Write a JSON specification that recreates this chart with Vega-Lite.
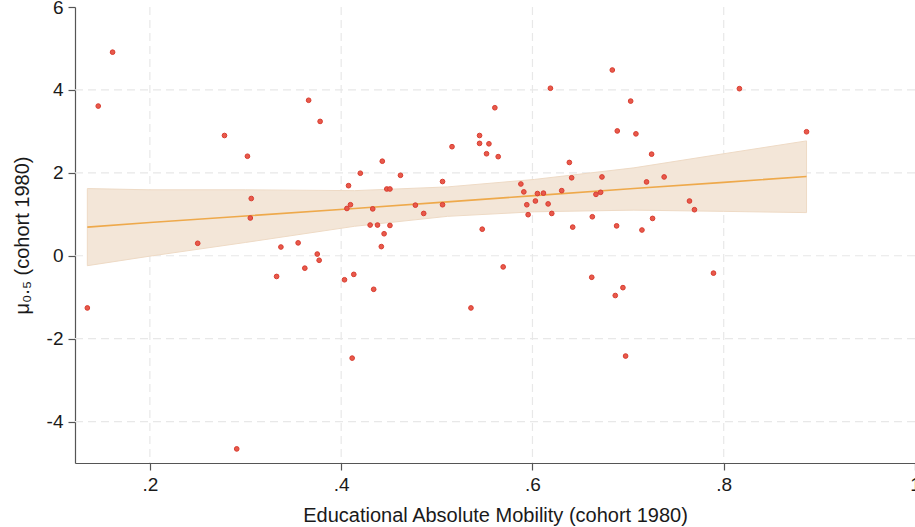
{
  "$schema": "https://vega.github.io/schema/vega-lite/v6.json",
  "width": 840,
  "height": 456,
  "autosize": {"type": "none"},
  "padding": {"left": 75, "top": 7, "right": 0, "bottom": 64},
  "background": "white",
  "config": {
    "view": {"stroke": null},
    "font": "Liberation Sans",
    "axis": {
      "labelFont": "Liberation Sans",
      "titleFont": "Liberation Sans",
      "labelFontSize": 19,
      "titleFontSize": 20,
      "titleFontWeight": "normal",
      "labelColor": "#1a1a1a",
      "titleColor": "#1a1a1a",
      "domainColor": "#555555",
      "tickColor": "#555555",
      "domainWidth": 1.2,
      "tickWidth": 1.2,
      "tickSize": 7,
      "labelPadding": 5,
      "grid": false
    }
  },
  "datasets": {
    "pts": [
      {"x": 0.161, "y": 4.91}, {"x": 0.146, "y": 3.61}, {"x": 0.278, "y": 2.90}, {"x": 0.302, "y": 2.40},
      {"x": 0.306, "y": 1.38}, {"x": 0.305, "y": 0.91}, {"x": 0.250, "y": 0.30}, {"x": 0.337, "y": 0.21},
      {"x": 0.355, "y": 0.31}, {"x": 0.366, "y": 3.75}, {"x": 0.375, "y": 0.04}, {"x": 0.377, "y": -0.11},
      {"x": 0.362, "y": -0.30}, {"x": 0.378, "y": 3.24}, {"x": 0.1346, "y": -1.26}, {"x": 0.3325, "y": -0.50},
      {"x": 0.2908, "y": -4.66}, {"x": 0.4077, "y": 1.69}, {"x": 0.420, "y": 1.99}, {"x": 0.443, "y": 2.28},
      {"x": 0.462, "y": 1.94}, {"x": 0.4097, "y": 1.23}, {"x": 0.406, "y": 1.14}, {"x": 0.433, "y": 1.13},
      {"x": 0.4477, "y": 1.61}, {"x": 0.451, "y": 1.61}, {"x": 0.4776, "y": 1.22}, {"x": 0.4863, "y": 1.02},
      {"x": 0.506, "y": 1.79}, {"x": 0.506, "y": 1.23}, {"x": 0.4303, "y": 0.74}, {"x": 0.438, "y": 0.74},
      {"x": 0.451, "y": 0.73}, {"x": 0.4449, "y": 0.53}, {"x": 0.442, "y": 0.22}, {"x": 0.5159, "y": 2.63},
      {"x": 0.5447, "y": 2.90}, {"x": 0.5447, "y": 2.71}, {"x": 0.5545, "y": 2.70}, {"x": 0.552, "y": 2.46},
      {"x": 0.5642, "y": 2.39}, {"x": 0.5607, "y": 3.57}, {"x": 0.6188, "y": 4.04}, {"x": 0.6835, "y": 4.48},
      {"x": 0.6887, "y": 3.01}, {"x": 0.5475, "y": 0.64}, {"x": 0.5879, "y": 1.73}, {"x": 0.591, "y": 1.54},
      {"x": 0.6052, "y": 1.50}, {"x": 0.6115, "y": 1.51}, {"x": 0.5941, "y": 1.23}, {"x": 0.6031, "y": 1.32},
      {"x": 0.5955, "y": 0.99}, {"x": 0.6164, "y": 1.25}, {"x": 0.6202, "y": 1.02}, {"x": 0.6306, "y": 1.57},
      {"x": 0.6386, "y": 2.25}, {"x": 0.641, "y": 1.88}, {"x": 0.6421, "y": 0.69}, {"x": 0.6626, "y": 0.94},
      {"x": 0.6664, "y": 1.48}, {"x": 0.6713, "y": 1.53}, {"x": 0.6727, "y": 1.90}, {"x": 0.688, "y": 0.72},
      {"x": 0.5694, "y": -0.27}, {"x": 0.4035, "y": -0.58}, {"x": 0.4132, "y": -0.45}, {"x": 0.434, "y": -0.81},
      {"x": 0.4115, "y": -2.47}, {"x": 0.5357, "y": -1.26}, {"x": 0.662, "y": -0.52}, {"x": 0.6866, "y": -0.96},
      {"x": 0.7027, "y": 3.73}, {"x": 0.7082, "y": 2.94}, {"x": 0.7246, "y": 2.45}, {"x": 0.7193, "y": 1.78},
      {"x": 0.7377, "y": 1.90}, {"x": 0.7642, "y": 1.32}, {"x": 0.7694, "y": 1.11}, {"x": 0.7256, "y": 0.90},
      {"x": 0.7145, "y": 0.62}, {"x": 0.8164, "y": 4.03}, {"x": 0.8866, "y": 2.99}, {"x": 0.6946, "y": -0.77},
      {"x": 0.6974, "y": -2.42}, {"x": 0.7893, "y": -0.42}
    ],
    "fit": [
      {"x": 0.1346, "lo": -0.24, "hi": 1.62, "fit": 0.69},
      {"x": 0.2, "lo": -0.01, "hi": 1.59, "fit": 0.80},
      {"x": 0.3, "lo": 0.32, "hi": 1.59, "fit": 0.96},
      {"x": 0.414, "lo": 0.71, "hi": 1.57, "fit": 1.14},
      {"x": 0.511, "lo": 0.95, "hi": 1.66, "fit": 1.30},
      {"x": 0.602, "lo": 1.06, "hi": 1.84, "fit": 1.45},
      {"x": 0.706, "lo": 1.10, "hi": 2.12, "fit": 1.62},
      {"x": 0.8, "lo": 1.07, "hi": 2.46, "fit": 1.77},
      {"x": 0.8866, "lo": 1.04, "hi": 2.77, "fit": 1.91}
    ],
    "gx": [{"v": 0.2}, {"v": 0.4}, {"v": 0.6}, {"v": 0.8}],
    "gy": [{"v": -4}, {"v": -2}, {"v": 0}, {"v": 2}, {"v": 4}]
  },
  "layer": [
    {
      "data": {"name": "gx"},
      "mark": {"type": "rule", "color": "#e8e8e8", "strokeWidth": 1.2, "strokeDash": [8, 5]},
      "encoding": {
        "x": {"field": "v", "type": "quantitative", "scale": {"domain": [0.1217, 1.0], "nice": false, "zero": false}}
      }
    },
    {
      "data": {"name": "gy"},
      "mark": {"type": "rule", "color": "#e8e8e8", "strokeWidth": 1.2, "strokeDash": [8, 5]},
      "encoding": {
        "y": {"field": "v", "type": "quantitative", "scale": {"domain": [-5, 6], "nice": false, "zero": false}}
      }
    },
    {
      "data": {"name": "fit"},
      "mark": {"type": "area", "fill": "#f3e6d8", "stroke": "#eedac5", "strokeWidth": 1},
      "encoding": {
        "x": {"field": "x", "type": "quantitative"},
        "y": {"field": "lo", "type": "quantitative"},
        "y2": {"field": "hi"}
      }
    },
    {
      "data": {"name": "fit"},
      "mark": {"type": "line", "color": "#eea94b", "strokeWidth": 1.6},
      "encoding": {
        "x": {"field": "x", "type": "quantitative"},
        "y": {"field": "fit", "type": "quantitative"}
      }
    },
    {
      "data": {"name": "pts"},
      "mark": {"type": "point", "filled": true, "fill": "#e8594b", "stroke": "#d93d30", "strokeWidth": 1, "size": 22, "opacity": 1},
      "encoding": {
        "x": {
          "field": "x", "type": "quantitative",
          "scale": {"domain": [0.1217, 1.0], "nice": false, "zero": false},
          "axis": {
            "title": "Educational Absolute Mobility (cohort 1980)",
            "values": [0.2, 0.4, 0.6, 0.8, 1],
            "labelExpr": "replace(format(datum.value, '~g'), '0.', '.')",
            "titlePadding": 11,
            "labelFlush": false,
            "labelOverlap": false
          }
        },
        "y": {
          "field": "y", "type": "quantitative",
          "scale": {"domain": [-5, 6], "nice": false, "zero": false},
          "axis": {
            "title": "μ₀.₅ (cohort 1980)",
            "values": [-4, -2, 0, 2, 4, 6],
            "labelExpr": "datum.value < 0 ? '-' + abs(datum.value) : '' + datum.value",
            "titlePadding": 14,
            "labelFlush": false,
            "labelOverlap": false
          }
        }
      }
    }
  ]
}
